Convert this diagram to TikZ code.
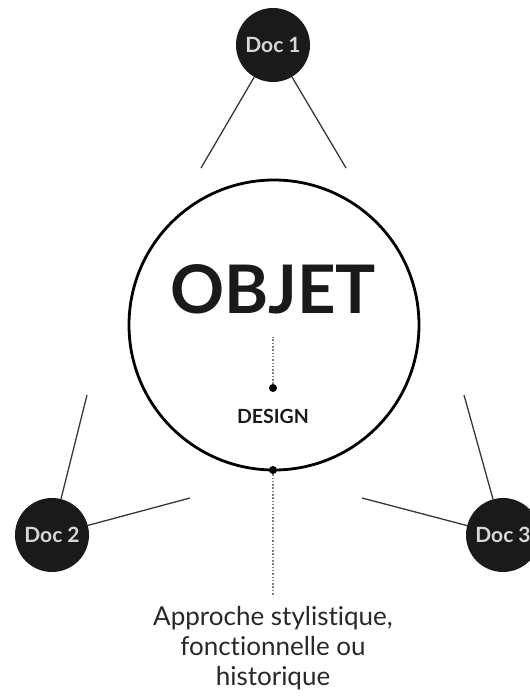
\documentclass[tikz,border=0pt]{standalone}
\usepackage{fontspec}
\setmainfont{Lato}[Ligatures=NoCommon]
\usepackage{tikz}
\usetikzlibrary{positioning, calc}
\definecolor{docblack}{RGB}{26, 26, 26}
\definecolor{doctext}{RGB}{215, 215, 215}
\definecolor{linegray}{RGB}{55, 55, 55}
\definecolor{textgray}{RGB}{40, 40, 40}

\begin{document}
\begin{tikzpicture}[
  x=1pt, y=-1pt,
  docnode/.style={circle, fill=docblack, minimum size=74pt, inner sep=0pt, text=doctext, font=\fontsize{21}{21}\selectfont\bfseries},
  objetcircle/.style={circle, draw=black, line width=2.8pt, minimum size=290pt, inner sep=0pt},
  dotnode/.style={circle, fill=black, minimum size=8pt, inner sep=0pt},
  spoke/.style={draw=linegray, line width=1.3pt},
  dotline/.style={draw=gray, line width=1.5pt, dash pattern=on 1.5pt off 1.8pt}
]
  \useasboundingbox (0,0) rectangle (530,696);

  % central object
  \node[objetcircle] (objet) at (274, 325) {};
  \node[anchor=base, font=\fontsize{67}{67}\selectfont\bfseries, text=docblack] (objtxt) at (273, 313) {OBJET};
  \node[dotnode] (cdot) at (273, 388) {};
  \coordinate (ctop) at (273, 337);
  \node[anchor=base, font=\fontsize{19.5}{19.5}\selectfont\bfseries, text=docblack] (design) at (273, 423) {DESIGN};
  \draw[dotline] (cdot) -- (ctop);

  % the three documents
  \node[docnode] (doc1) at (273, 45) {Doc 1};
  \node[docnode] (doc2) at (52, 535) {Doc 2};
  \node[docnode] (doc3) at (503, 535) {Doc 3};

  \coordinate (d1a) at (201, 168);
  \coordinate (d1b) at (346, 168);
  \coordinate (d2a) at (87, 395);
  \coordinate (d2b) at (190, 498);
  \coordinate (d3a) at (464, 395);
  \coordinate (d3b) at (362, 498);
  \draw[spoke] (doc1) -- (d1a);
  \draw[spoke] (doc1) -- (d1b);
  \draw[spoke] (doc2) -- (d2a);
  \draw[spoke] (doc2) -- (d2b);
  \draw[spoke] (doc3) -- (d3a);
  \draw[spoke] (doc3) -- (d3b);

  % approach
  \node[dotnode] (bdot) at (273, 470) {};
  \node[anchor=north, inner sep=0pt, align=center, text=textgray, font=\fontsize{26}{30}\selectfont] (approche) at (273, 606) {Approche stylistique,\\fonctionnelle ou\\historique};
  \coordinate (bend) at (273, 595);
  \draw[dotline] (bdot) -- (bend);
\end{tikzpicture}
\end{document}
